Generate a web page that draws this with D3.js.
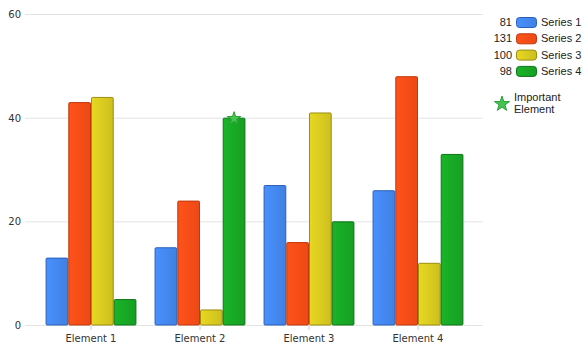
<!DOCTYPE html>
<html>
<head>
<meta charset="utf-8">
<script src="https://cdn.jsdelivr.net/npm/d3@7"></script>
<style>
  body { margin: 0; background: #fff; }
  text { font-family: "DejaVu Sans", sans-serif; }
  .legend text { font-family: "Liberation Sans", Arial, sans-serif; }
</style>
</head>
<body>
<div id="chart"></div>
<script>
// data
var categories = ['Element 1', 'Element 2', 'Element 3', 'Element 4']
var seriesNames = ['Series 1', 'Series 2', 'Series 3', 'Series 4']
var series1 = [13, 15, 27, 26]
var series2 = [43, 24, 16, 48]
var series3 = [44, 3, 41, 12]
var series4 = [5, 40, 20, 33]
var yTicks = [0, 20, 40, 60]
// the starred bar: Element 2, Series 4
var important = {category: 'Element 2', series: 'Series 4'}

var allSeries = [series1, series2, series3, series4]
var fills = ['#4589f2', '#fd4e18', '#dccd20', '#18ab26']
var strokes = ['#2a5fb8', '#c2380c', '#9a8e10', '#0f7419']

var width = 587, height = 351

var svg = d3.select('#chart').append('svg')
    .attr('width', width)
    .attr('height', height)

// gradients for the bars
var defs = svg.append('defs')
fills.forEach(function(c, i) {
  var g = defs.append('linearGradient').attr('id', 'grad' + i)
      .attr('x1', '0%').attr('x2', '100%').attr('y1', '0%').attr('y2', '0%')
  g.append('stop').attr('offset', '0%').attr('stop-color', d3.color(c).brighter(0.15))
  g.append('stop').attr('offset', '100%').attr('stop-color', d3.color(c).darker(0.2))
})

var x = d3.scaleBand()
    .domain(categories)
    .range([36.5, 472.5])
    .paddingInner(0)
    .paddingOuter(0)

var inner = d3.scaleBand()
    .domain(seriesNames)
    .range([0, x.bandwidth()])
    .paddingOuter(0.4)

var y = d3.scaleLinear()
    .domain([0, 60])
    .range([325, 14])

// gridlines
svg.append('g').selectAll('line')
    .data(yTicks)
  .enter().append('line')
    .attr('x1', 25).attr('x2', 483)
    .attr('y1', function(d) { return y(d) + 0.5 })
    .attr('y2', function(d) { return y(d) + 0.5 })
    .style('stroke', '#e3e3e3')
    .style('stroke-width', 1)

// y labels
svg.append('g').selectAll('text')
    .data(yTicks)
  .enter().append('text')
    .attr('x', 21)
    .attr('y', function(d) { return y(d) + 4 })
    .attr('text-anchor', 'end')
    .style('font-size', '10px')
    .style('fill', '#333')
    .text(function(d) { return d })

// bars
categories.forEach(function(cat, ci) {
  var g = svg.append('g').attr('transform', 'translate(' + x(cat) + ',0)')
  seriesNames.forEach(function(s, si) {
    var v = allSeries[si][ci]
    g.append('rect')
      .attr('x', inner(s) + 0.5)
      .attr('y', y(v) + 0.5)
      .attr('width', inner.bandwidth() - 1)
      .attr('height', y(0) - y(v) - 0.5)
      .attr('rx', 1)
      .style('fill', 'url(#grad' + si + ')')
      .style('stroke', strokes[si])
      .style('stroke-width', 1)
  })
})

// x axis ticks and labels
var xg = svg.append('g')
xg.selectAll('line')
    .data(categories)
  .enter().append('line')
    .attr('x1', function(d) { return x(d) + x.bandwidth() / 2 })
    .attr('x2', function(d) { return x(d) + x.bandwidth() / 2 })
    .attr('y1', 326).attr('y2', 330)
    .style('stroke', '#ccc')
xg.selectAll('text')
    .data(categories)
  .enter().append('text')
    .attr('x', function(d) { return x(d) + x.bandwidth() / 2 })
    .attr('y', 342)
    .attr('text-anchor', 'middle')
    .style('font-size', '10px')
    .style('fill', '#333')
    .text(function(d) { return d })

// star shape
var star = d3.symbol().type(d3.symbolStar).size(55)

var si = seriesNames.indexOf(important.series)
var ci = categories.indexOf(important.category)
svg.append('path')
    .attr('d', star())
    .attr('transform', 'translate(' + (x(important.category) + inner(important.series) + inner.bandwidth() / 2) + ',' + (y(allSeries[si][ci]) + 1) + ')')
    .style('fill', '#47c352')
    .style('stroke', '#2aa036')
    .style('stroke-width', 1)

// legend
var totals = allSeries.map(function(s) { return d3.sum(s) })
var legend = svg.append('g').attr('class', 'legend')
seriesNames.forEach(function(s, i) {
  var ly = 22 + i * 16.3
  legend.append('text')
    .attr('x', 512).attr('y', ly + 4)
    .attr('text-anchor', 'end')
    .style('font-size', '11px')
    .style('fill', '#222')
    .text(totals[i])
  legend.append('rect')
    .attr('x', 516.5).attr('y', ly - 4.5)
    .attr('width', 20).attr('height', 10)
    .attr('rx', 3)
    .style('fill', 'url(#grad' + i + ')')
    .style('stroke', strokes[i])
  legend.append('text')
    .attr('x', 541).attr('y', ly + 4)
    .style('font-size', '11px')
    .style('fill', '#222')
    .text(s)
})

legend.append('path')
    .attr('d', d3.symbol().type(d3.symbolStar).size(70)())
    .attr('transform', 'translate(502,104)')
    .style('fill', '#47c352')
    .style('stroke', '#2aa036')
legend.append('text')
    .attr('x', 514).attr('y', 101)
    .style('font-size', '11px')
    .style('fill', '#222')
    .text('Important')
legend.append('text')
    .attr('x', 514).attr('y', 113)
    .style('font-size', '11px')
    .style('fill', '#222')
    .text('Element')
</script>
</body>
</html>
